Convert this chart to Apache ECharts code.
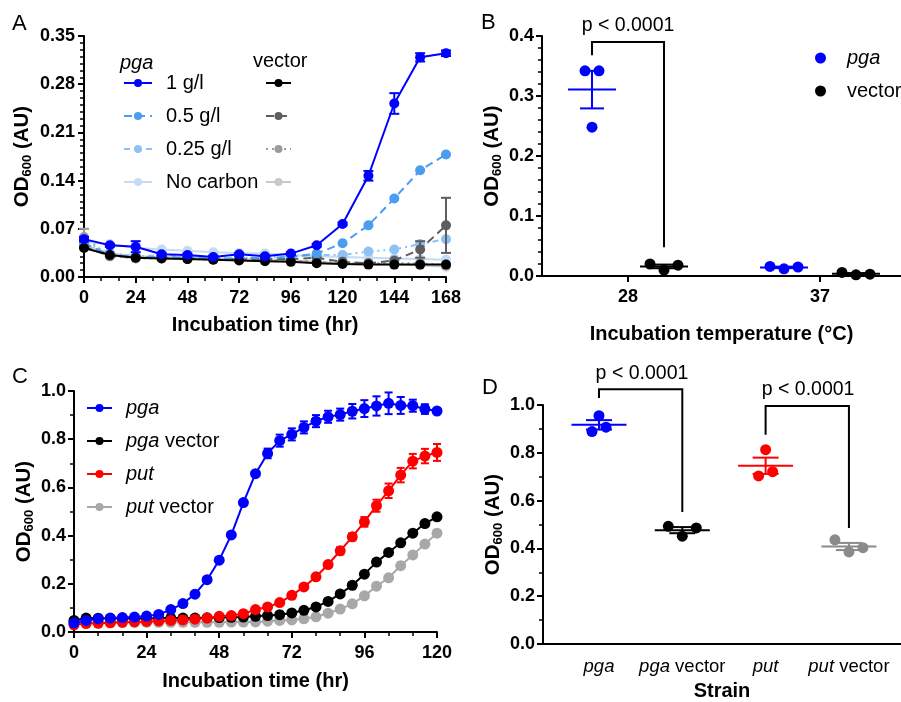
<!DOCTYPE html>
<html><head><meta charset="utf-8">
<script src="https://cdn.jsdelivr.net/npm/echarts@6/dist/echarts.min.js"></script>
<style>html,body{margin:0;padding:0;background:#fff}#c{width:901px;height:702px}</style>
</head><body><div id="c"></div>
<script>
const FONT = '"Liberation Sans", Arial, Helvetica, sans-serif';

// ---------- Panel A data ----------
const timeA = [0,12,24,36,48,60,72,84,96,108,120,132,144,156,168];
const pga1g   = [0.055,0.046,0.044,0.033,0.032,0.029,0.033,0.030,0.034,0.046,0.077,0.147,0.252,0.319,0.325];
const pga1gErr= [0.003,0.002,0.008,0.002,0.002,0.002,0.002,0.002,0.002,0.002,0.002,0.007,0.015,0.006,0.004];
const pga05g  = [0.049,0.032,0.029,0.029,0.028,0.027,0.027,0.028,0.029,0.034,0.049,0.075,0.114,0.155,0.178];
const pga025g = [0.050,0.035,0.030,0.032,0.030,0.028,0.028,0.028,0.030,0.032,0.032,0.037,0.040,0.048,0.055];
const pgaNoC  = [0.051,0.048,0.042,0.040,0.038,0.036,0.035,0.034,0.032,0.030,0.029,0.028,0.027,0.026,0.025];
const vec1g   = [0.042,0.032,0.028,0.027,0.026,0.025,0.024,0.023,0.022,0.020,0.019,0.018,0.018,0.018,0.018];
const vec05g  = [0.044,0.031,0.028,0.028,0.027,0.026,0.026,0.026,0.026,0.028,0.022,0.020,0.024,0.040,0.075];
const vec05gErr=[0,0,0,0,0,0,0,0,0,0,0,0,0,0.012,0.040];
const vec025g = [0.058,0.030,0.027,0.027,0.026,0.025,0.025,0.025,0.024,0.022,0.021,0.020,0.020,0.020,0.017];
const vec025gErr=[0.012,0,0,0,0,0,0,0,0,0,0,0,0,0,0];
const vecNoC  = [0.046,0.034,0.030,0.029,0.028,0.027,0.026,0.025,0.024,0.022,0.020,0.019,0.018,0.017,0.015];
const legendA = ['1 g/l','0.5 g/l','0.25 g/l','No carbon'];

// ---------- Panel B data ----------
const tempLabels = ['28','37'];
const pgaB = [[0.342,0.248,0.342],[0.016,0.012,0.015]];   // per temperature: left, middle, right point
const vecB = [[0.020,0.010,0.018],[0.006,0.002,0.003]];
const pText = ['p < 0.0001'];

// ---------- Panel C data ----------
const timeC = [0,4,8,12,16,20,24,28,32,36,40,44,48,52,56,60,64,68,72,76,80,84,88,92,96,100,104,108,112,116,120];
const pgaC    = [0.037,0.048,0.055,0.058,0.060,0.062,0.066,0.073,0.093,0.118,0.157,0.217,0.298,0.403,0.537,0.657,0.741,0.794,0.820,0.849,0.875,0.893,0.902,0.916,0.927,0.938,0.949,0.940,0.939,0.925,0.917];
const pgaCErr = [0,0,0,0,0,0,0,0,0,0,0,0,0,0,0,0,0.020,0.025,0.025,0.025,0.025,0.025,0.025,0.030,0.035,0.040,0.045,0.035,0.025,0.020,0.010];
const pgaVecC = [0.048,0.058,0.057,0.056,0.056,0.056,0.056,0.057,0.058,0.058,0.058,0.059,0.060,0.061,0.062,0.065,0.068,0.072,0.079,0.090,0.104,0.127,0.158,0.194,0.240,0.290,0.330,0.370,0.410,0.450,0.478];
const putC    = [0.030,0.035,0.036,0.038,0.040,0.042,0.044,0.046,0.048,0.050,0.053,0.058,0.065,0.068,0.076,0.093,0.104,0.122,0.152,0.187,0.229,0.280,0.337,0.395,0.457,0.524,0.586,0.651,0.709,0.730,0.745];
const putCErr = [0,0,0,0,0,0,0,0,0,0,0,0,0,0,0,0,0,0,0,0,0,0.010,0.015,0.015,0.020,0.025,0.030,0.030,0.030,0.030,0.035];
const putVecC = [0.040,0.040,0.040,0.040,0.040,0.040,0.040,0.040,0.040,0.040,0.040,0.040,0.040,0.041,0.041,0.042,0.045,0.048,0.050,0.055,0.063,0.078,0.095,0.117,0.150,0.190,0.225,0.275,0.320,0.365,0.410];
const legendC = ['pga','pga vector','put','put vector'];

// ---------- Panel D data ----------
const strainsD = ['pga','pga vector','put','put vector'];
const strainPts = [[0.889,0.955,0.907],[0.4925,0.451,0.4855],[0.703,0.813,0.721],[0.436,0.385,0.403]];
// annotation brackets: [xLeft, xRight, yTop, yLeftEnd, yRightEnd, textX, textY]
const bracketB = [[-0.1875,0.1875,0.390,0.368,0.048,0,0.417]];
const bracketD = [[0,1,1.066,1.029,0.552,0.516,1.133],[2,3,0.996,0.876,0.485,2.51,1.066]];

// ---------- helpers ----------
function meanOf(a){return a.reduce((s,v)=>s+v,0)/a.length;}
function semOf(a){const m=meanOf(a);const v=a.reduce((s,x)=>s+(x-m)*(x-m),0)/(a.length-1);return Math.sqrt(v/a.length);}
function errData(xs, ys, es){const out=[];xs.forEach((x,i)=>{if(es[i]>0)out.push([x,ys[i]-es[i],ys[i]+es[i]]);});return out;}
function pair(xs, ys){return xs.map((x,i)=>[x,ys[i]]);}

function errRender(color, cap){
  return function(params, api){
    const x=api.value(0), lo=api.value(1), hi=api.value(2);
    const a=api.coord([x,lo]), b=api.coord([x,hi]);
    const st={stroke:color,lineWidth:2};
    return {type:'group',children:[
      {type:'line',shape:{x1:a[0],y1:a[1],x2:b[0],y2:b[1]},style:st},
      {type:'line',shape:{x1:a[0]-cap/2,y1:a[1],x2:a[0]+cap/2,y2:a[1]},style:st},
      {type:'line',shape:{x1:b[0]-cap/2,y1:b[1],x2:b[0]+cap/2,y2:b[1]},style:st}
    ]};
  };
}
function meanRender(meanW, capW){
  return function(params, api){
    const x=api.value(0), m=api.value(1), s=api.value(2);
    const c=api.visual('color');
    const pm=api.coord([x,m]), pl=api.coord([x,m-s]), ph=api.coord([x,m+s]);
    const st={stroke:c,lineWidth:2};
    return {type:'group',children:[
      {type:'line',shape:{x1:pm[0]-meanW/2,y1:pm[1],x2:pm[0]+meanW/2,y2:pm[1]},style:st},
      {type:'line',shape:{x1:pl[0],y1:pl[1],x2:ph[0],y2:ph[1]},style:st},
      {type:'line',shape:{x1:pl[0]-capW/2,y1:pl[1],x2:pl[0]+capW/2,y2:pl[1]},style:st},
      {type:'line',shape:{x1:ph[0]-capW/2,y1:ph[1],x2:ph[0]+capW/2,y2:ph[1]},style:st}
    ]};
  };
}
function bracketRender(params, api){
  const xl=api.value(0), xr=api.value(1), yt=api.value(2), yl=api.value(3), yr=api.value(4), tx=api.value(5), ty=api.value(6);
  const p1=api.coord([xl,yl]), p2=api.coord([xl,yt]), p3=api.coord([xr,yt]), p4=api.coord([xr,yr]), pt=api.coord([tx,ty]);
  return {type:'group',children:[
    {type:'polyline',shape:{points:[p1,p2,p3,p4]},style:{stroke:'#000',lineWidth:2,fill:null}},
    {type:'text',x:pt[0],y:pt[1],style:{text:pText[0],fill:'#000',fontSize:19.5,fontFamily:FONT,align:'center',verticalAlign:'middle'}}
  ]};
}

// ---------- axis styling ----------
const lab = {color:'#000',fontWeight:'bold',fontSize:18,fontFamily:FONT};
const nameStyle = {color:'#000',fontWeight:'bold',fontSize:20,fontFamily:FONT};
const odName = '{b|OD}{s|600}{b| (AU)}';
const odStyle = {color:'#000',fontFamily:FONT,rich:{
  b:{fontSize:20.5,fontWeight:'bold',fontFamily:FONT,color:'#000'},
  s:{fontSize:13,fontWeight:'bold',fontFamily:FONT,color:'#000',verticalAlign:'bottom',padding:[10,0,0,0]}
}};
function baseAxis(extra){
  return Object.assign({
    type:'value',
    axisLine:{show:true,onZero:false,lineStyle:{color:'#000',width:2}},
    axisTick:{show:true,length:6,lineStyle:{color:'#000',width:2}},
    minorTick:{show:false},
    splitLine:{show:false},
    minorSplitLine:{show:false},
    axisLabel:Object.assign({},lab),
    nameLocation:'middle',
    nameTextStyle:nameStyle
  }, extra);
}

// jitter in pixels for replicate points (left, middle, right)
const jitterPx = 7, wideJitterPx = 14;
const pxPerUnitB = 192, pxPerUnitD = 83.3;
const groupOffB = 0.1875;

const bPgaPts=[], bVecPts=[], bMeans=[];
pgaB.forEach((vals,ti)=>{
  const cx=ti-groupOffB, sp=(ti===0?jitterPx:wideJitterPx)/pxPerUnitB;
  vals.forEach((v,k)=>bPgaPts.push([cx+(k-1)*sp,v]));
  bMeans.push({value:[cx,meanOf(vals),semOf(vals)],itemStyle:{color:'#0000ff'}});
});
vecB.forEach((vals,ti)=>{
  const cx=ti+groupOffB, sp=wideJitterPx/pxPerUnitB;
  vals.forEach((v,k)=>bVecPts.push([cx+(k-1)*sp,v]));
  bMeans.push({value:[cx,meanOf(vals),semOf(vals)],itemStyle:{color:'#000000'}});
});

const dColors = ['#0000ff','#000000','#ff0000','#8a8a8a'];
const dSpread = [jitterPx, wideJitterPx, jitterPx, wideJitterPx];
const dSeries = strainsD.map((s,i)=>({
  type:'scatter', name:'D '+s, xAxisIndex:3, yAxisIndex:3, symbol:'circle', symbolSize:11,
  itemStyle:{color:dColors[i],opacity:1}, z:3,
  data: strainPts[i].map((v,k)=>[i+(k-1)*dSpread[i]/pxPerUnitD, v])
}));
const dMeans = strainPts.map((vals,i)=>({value:[i,meanOf(vals),semOf(vals)],itemStyle:{color:dColors[i]}}));

const chart = echarts.init(document.getElementById('c'), null, {renderer:'canvas'});
const lineA = (name, data, color, type, z) => ({
  type:'line', name, xAxisIndex:0, yAxisIndex:0, data:pair(timeA,data), symbol:'circle', symbolSize:10,
  showSymbol:true, lineStyle:{color, width:2, type}, itemStyle:{color}, z, animation:false
});
const lineC = (name, data, color, z) => ({
  type:'line', name, xAxisIndex:2, yAxisIndex:2, data:pair(timeC,data), symbol:'circle', symbolSize:11,
  lineStyle:{color, width:2}, itemStyle:{color}, z
});

const italicRich = {i:{fontStyle:'italic',fontSize:20,fontFamily:FONT,color:'#000'}, n:{fontSize:20,fontFamily:FONT,color:'#000'}};
function geneFmt(name){
  const parts = name.split(' ');
  return '{i|'+parts[0]+'}' + (parts.length>1 ? '{n| '+parts.slice(1).join(' ')+'}' : '');
}

chart.setOption({
  animation:false,
  backgroundColor:'#fff',
  textStyle:{fontFamily:FONT},
  grid:[
    {left:84, top:36, width:362, height:241},
    {left:542, top:36, width:359, height:240},
    {left:74, top:391, width:363, height:241},
    {left:543, top:405, width:358, height:241}
  ],
  xAxis:[
    baseAxis({gridIndex:0,min:0,max:168,interval:24,minorTick:{show:true,splitNumber:3,length:4,lineStyle:{color:'#000',width:1.5}},
      axisLabel:Object.assign({},lab,{margin:12}),name:'Incubation time (hr)',nameGap:38}),
    baseAxis({gridIndex:1,min:-0.448,max:1.422,
      axisTick:{show:true,length:6,customValues:[0,1],lineStyle:{color:'#000',width:2}},
      axisLabel:Object.assign({},lab,{margin:12,customValues:[0,1],formatter:v=>tempLabels[Math.round(v)]}),
      name:'Incubation temperature (°C)',nameGap:48}),
    baseAxis({gridIndex:2,min:0,max:120,interval:24,minorTick:{show:true,splitNumber:3,length:4,lineStyle:{color:'#000',width:1.5}},
      axisLabel:Object.assign({},lab,{margin:12}),name:'Incubation time (hr)',nameGap:39}),
    baseAxis({gridIndex:3,min:-0.672,max:3.625,
      axisTick:{show:false},
      axisLabel:{margin:13,customValues:[0,1,2,3],formatter:v=>geneFmt(strainsD[Math.round(v)]),rich:{
        i:{fontStyle:'italic',fontSize:18.5,fontFamily:FONT,color:'#000'}, n:{fontSize:18.5,fontFamily:FONT,color:'#000'}}},
      name:'Strain',nameGap:37})
  ],
  yAxis:[
    baseAxis({gridIndex:0,min:0,max:0.35,interval:0.07,minorTick:{show:true,splitNumber:7,length:4,lineStyle:{color:'#000',width:1.5}},
      axisLabel:Object.assign({},lab,{margin:9,formatter:v=>v.toFixed(2)}),name:odName,nameTextStyle:odStyle,nameGap:50}),
    baseAxis({gridIndex:1,min:0,max:0.4,interval:0.1,minorTick:{show:true,splitNumber:5,length:4,lineStyle:{color:'#000',width:1.5}},
      axisLabel:Object.assign({},lab,{margin:8,formatter:v=>v.toFixed(1)}),name:odName,nameTextStyle:odStyle,nameGap:38}),
    baseAxis({gridIndex:2,min:0,max:1,interval:0.2,minorTick:{show:true,splitNumber:2,length:4,lineStyle:{color:'#000',width:1.5}},
      axisLabel:Object.assign({},lab,{margin:8,formatter:v=>v.toFixed(1)}),name:odName,nameTextStyle:odStyle,nameGap:38}),
    baseAxis({gridIndex:3,min:0,max:1,interval:0.2,minorTick:{show:true,splitNumber:2,length:4,lineStyle:{color:'#000',width:1.5}},
      axisLabel:Object.assign({},lab,{margin:8,formatter:v=>v.toFixed(1)}),name:odName,nameTextStyle:odStyle,nameGap:38})
  ],
  legend:[
    {data:legendA, orient:'vertical', left:123, top:73, padding:0, itemWidth:28, itemHeight:10, itemGap:13,
      textStyle:{fontSize:20,fontFamily:FONT,color:'#000',padding:[0,0,0,9]}, selectedMode:false},
    {data:legendA.map(n=>'vector '+n), orient:'vertical', left:265, top:73, padding:0, itemWidth:25, itemHeight:10, itemGap:13,
      formatter:()=>' ', textStyle:{fontSize:20,fontFamily:FONT,color:'#000'}, selectedMode:false},
    {data:[{name:'B pga',icon:'circle'},{name:'B vector',icon:'circle'}], orient:'vertical', left:815, top:48, padding:0, itemWidth:25, itemHeight:11, itemGap:13,
      formatter:n=>n==='B pga'?'{i|pga}':'{n|vector}', textStyle:{fontSize:20,fontFamily:FONT,color:'#000',padding:[0,0,0,9],rich:italicRich}, selectedMode:false},
    {data:legendC, orient:'vertical', left:86, top:398, padding:0, itemWidth:25, itemHeight:10, itemGap:13,
      formatter:geneFmt, textStyle:{fontSize:20,fontFamily:FONT,color:'#000',padding:[0,0,0,9],rich:italicRich}, selectedMode:false}
  ],
  graphic:[
    {type:'text',left:12,top:13,style:{text:'A',fontSize:22,fontFamily:FONT,fill:'#000'}},
    {type:'text',left:481,top:12,style:{text:'B',fontSize:22,fontFamily:FONT,fill:'#000'}},
    {type:'text',left:12,top:366,style:{text:'C',fontSize:22,fontFamily:FONT,fill:'#000'}},
    {type:'text',left:482,top:377,style:{text:'D',fontSize:22,fontFamily:FONT,fill:'#000'}},
    {type:'text',left:120,top:53,style:{text:'pga',fontSize:20,fontStyle:'italic',fontFamily:FONT,fill:'#000'}},
    {type:'text',left:253,top:51,style:{text:'vector',fontSize:20,fontFamily:FONT,fill:'#000'}}
  ],
  series:[
    lineA('vector No carbon', vecNoC, '#c9c9c9', 'solid', 2),
    lineA('No carbon', pgaNoC, '#c4dbf6', 'solid', 2),
    lineA('vector 0.25 g/l', vec025g, '#9b9b9b', [2,4], 3),
    lineA('0.25 g/l', pga025g, '#8ec2f5', [6,4,2,4,2,4], 3),
    lineA('vector 0.5 g/l', vec05g, '#5e5e5e', [8,5], 4),
    lineA('0.5 g/l', pga05g, '#4b9df0', [8,5], 4),
    lineA('vector 1 g/l', vec1g, '#000000', 'solid', 5),
    lineA('1 g/l', pga1g, '#0000ff', 'solid', 6),
    {type:'custom', xAxisIndex:0, yAxisIndex:0, renderItem:errRender('#5e5e5e',10), data:errData(timeA,vec05g,vec05gErr), z:4},
    {type:'custom', xAxisIndex:0, yAxisIndex:0, renderItem:errRender('#9b9b9b',10), data:errData(timeA,vec025g,vec025gErr), z:3},
    {type:'custom', xAxisIndex:0, yAxisIndex:0, renderItem:errRender('#0000ff',10), data:errData(timeA,pga1g,pga1gErr), z:6},

    {type:'scatter', name:'B pga', xAxisIndex:1, yAxisIndex:1, symbol:'circle', symbolSize:11, itemStyle:{color:'#0000ff',opacity:1}, data:bPgaPts, z:3},
    {type:'scatter', name:'B vector', xAxisIndex:1, yAxisIndex:1, symbol:'circle', symbolSize:11, itemStyle:{color:'#000000',opacity:1}, data:bVecPts, z:3},
    {type:'custom', xAxisIndex:1, yAxisIndex:1, renderItem:meanRender(48,24), data:bMeans, z:4},
    {type:'custom', xAxisIndex:1, yAxisIndex:1, renderItem:bracketRender, data:bracketB, z:5},

    lineC('put vector', putVecC, '#a8a8a8', 2),
    lineC('pga vector', pgaVecC, '#000000', 3),
    lineC('put', putC, '#ff0000', 4),
    lineC('pga', pgaC, '#0000ff', 5),
    {type:'custom', xAxisIndex:2, yAxisIndex:2, renderItem:errRender('#ff0000',8), data:errData(timeC,putC,putCErr), z:4},
    {type:'custom', xAxisIndex:2, yAxisIndex:2, renderItem:errRender('#0000ff',8), data:errData(timeC,pgaC,pgaCErr), z:5},

    ...dSeries,
    {type:'custom', xAxisIndex:3, yAxisIndex:3, renderItem:meanRender(55,26), data:dMeans, z:4},
    {type:'custom', xAxisIndex:3, yAxisIndex:3, renderItem:bracketRender, data:bracketD, z:5}
  ]
});
</script></body></html>
